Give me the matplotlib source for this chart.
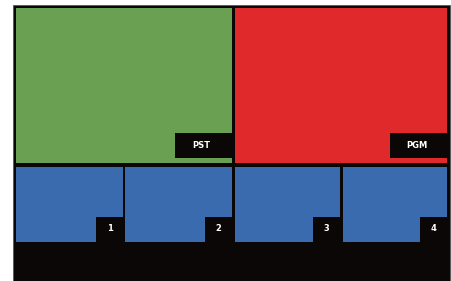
import matplotlib
matplotlib.use("Agg")
import matplotlib.pyplot as plt
from matplotlib.patches import Rectangle

# big windows (preview / program) and the four small source windows
big_labels = ["PST", "PGM"]
big_colors = ["#6aa052", "#e0292b"]
small_labels = ["1", "2", "3", "4"]
small_color = "#3a6bae"
frame_color = "#0a0706"

W, H = 452, 281
fig = plt.figure(figsize=(W / 100, H / 100), dpi=100)
ax = fig.add_axes([0, 0, 1, 1])
ax.set_xlim(0, W)
ax.set_ylim(H, 0)
ax.axis("off")

# outer frame
left, top, right = 13, 5, 450
ax.add_patch(Rectangle((left, top), right - left, H - top, facecolor=frame_color,
                       edgecolor="#555555", lw=0.6))

# top row: two big windows
big_x = [(16, 232), (235, 447)]
big_y = (8, 163)
for (x0, x1), lab, col in zip(big_x, big_labels, big_colors):
    ax.add_patch(Rectangle((x0, big_y[0]), x1 - x0, big_y[1] - big_y[0], facecolor=col, lw=0))
    bw, bh = 57, 25
    ax.add_patch(Rectangle((x1 - bw, big_y[1] - 5 - bh), bw, bh, facecolor=frame_color, lw=0))
    ax.text(x1 - bw / 2 - 2, big_y[1] - 5 - bh / 2, lab, color="white", fontsize=6,
            fontweight="bold", ha="center", va="center")

# bottom row: four small windows with a notch for the number
small_x = [(16, 123), (125, 232), (235, 340), (343, 447)]
sy0, sy1 = 167, 242
for (x0, x1), lab in zip(small_x, small_labels):
    ax.add_patch(Rectangle((x0, sy0), x1 - x0, sy1 - sy0, facecolor=small_color, lw=0))
    nw, nh = 27, 25
    ax.add_patch(Rectangle((x1 - nw, sy1 - nh), nw, nh + 1, facecolor=frame_color, lw=0))
    ax.text(x1 - nw / 2, sy1 - nh / 2 - 1, lab, color="white", fontsize=6,
            fontweight="bold", ha="center", va="center")

plt.savefig("out.png", dpi=100, facecolor="white")
